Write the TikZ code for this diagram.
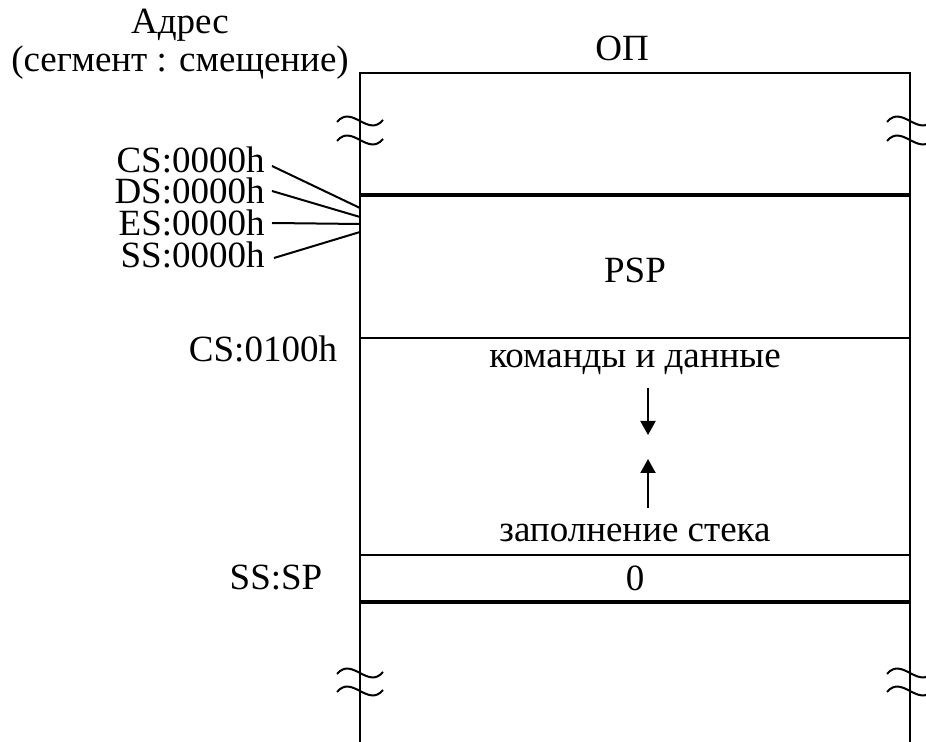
\documentclass[tikz,border=0pt]{standalone}
\usepackage{fontspec}
\setmainfont{Liberation Serif}
\usetikzlibrary{arrows.meta,positioning}

\begin{document}
\begin{tikzpicture}[x=0.5pt, y=-0.5pt,
    lbl/.style={font=\fontsize{18.5}{19}\selectfont, inner sep=3pt},
    reglbl/.style={lbl, anchor=east, inner sep=0.5pt, text height=12.4pt, text depth=0.3pt},
    wall/.style={line width=1.2pt},
    thinrule/.style={line width=1pt},
    thickrule/.style={line width=2.2pt},
    brk/.style={line width=1pt},
    ptr/.style={line width=1pt},
    fillarrow/.style={line width=1pt, -{Triangle[length=7pt,width=7.5pt]}}
  ]
    \useasboundingbox (0,0) rectangle (926,742);

    % memory column
    \draw[wall] (360,742) -- (360,73) -- (910,73) -- (910,742);
    \draw[thickrule] (360,195) -- (910,195);
    \draw[thinrule]  (360,338) -- (910,338);
    \draw[thinrule]  (360,555) -- (910,555);
    \draw[thickrule] (360,602) -- (910,602);

    % breaks
    \foreach \x in {360,910}
      \foreach \y in {121,140,673,691}
        \draw[brk] (\x-23,\y+1) .. controls (\x-8,\y-17) and (\x+8,\y+17) .. (\x+23,\y-1);

    % headings
    \node[lbl, align=center] (addr) at (180,44) {Адрес\\(сегмент : смещение)};
    \node[lbl] (op) at (622,48) {ОП};

    % segment registers
    \node[reglbl] (cs) at (266,160) {CS:0000h};
    \node[reglbl] (ds) at (266,191) {DS:0000h};
    \node[reglbl] (es) at (266,223) {ES:0000h};
    \node[reglbl] (ss) at (266,255) {SS:0000h};
    \coordinate (pcs) at (360,208);
    \coordinate (pds) at (360,217);
    \coordinate (pes) at (360,224);
    \coordinate (pss) at (360,232);
    \draw[ptr] ([xshift=3pt,yshift=-3pt]cs.east) -- (pcs);
    \draw[ptr] ([xshift=3pt]ds.east) -- (pds);
    \draw[ptr] ([xshift=3pt]es.east) -- (pes);
    \draw[ptr] ([xshift=4pt,yshift=-1.5pt]ss.east) -- (pss);

    \node[lbl] (csip) at (263,349) {CS:0100h};
    \node[lbl] (sssp) at (276,578) {SS:SP};

    % contents
    \node[lbl] (psp)  at (635,270) {PSP};
    \node[lbl] (code) at (635,362) {команды и данные};
    \node[lbl] (fill) at (635,533) {заполнение стека};
    \node[lbl] (zero) at (635,578) {0};

    \coordinate (cdn1) at (648,388);
    \coordinate (cdn2) at (648,435);
    \coordinate (sup1) at (648,508);
    \coordinate (sup2) at (648,459);
    \draw[fillarrow] (cdn1) -- (cdn2);
    \draw[fillarrow] (sup1) -- (sup2);
  \end{tikzpicture}
\end{document}
